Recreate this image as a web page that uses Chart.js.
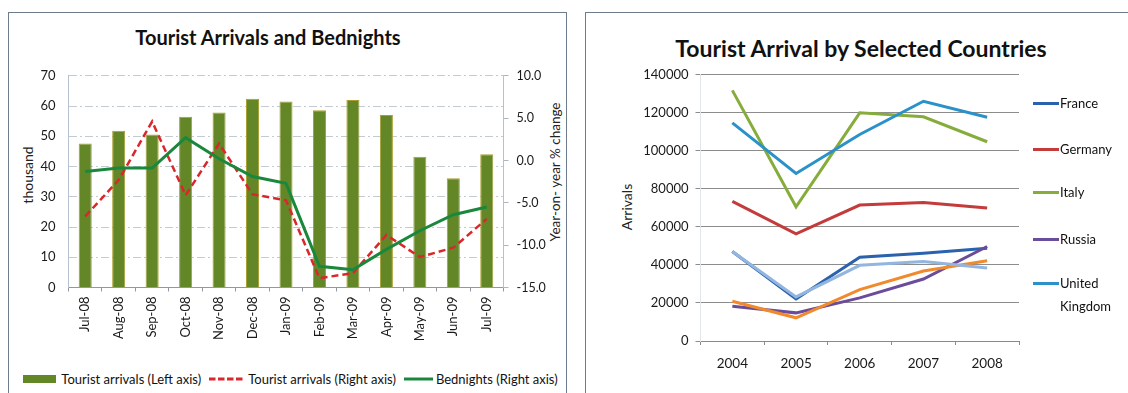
<!DOCTYPE html>
<html>
<head>
<meta charset="utf-8">
<script src="https://cdn.jsdelivr.net/npm/chart.js@4.4.1/dist/chart.umd.min.js"></script>
<style>
  html, body { margin: 0; padding: 0; background: #fff; }
  body { position: relative; width: 1128px; height: 393px; overflow: hidden; font-family: Lato, "Open Sans", sans-serif; color: #111; }
  .frame { position: absolute; border: 1px solid #6d7b8a; box-sizing: border-box; }
  .title { position: absolute; font-weight: bold; white-space: nowrap; line-height: 1; transform: translate(-50%, -50%); color: #111; }
  .vtitle { position: absolute; white-space: nowrap; line-height: 1; transform: translate(-50%, -50%) rotate(-90deg); color: #222; }
  canvas { position: absolute; }
  .legend-row { position: absolute; display: flex; align-items: center; justify-content: center; font-size: 13px; white-space: nowrap; }
  .legend-row .txt { line-height: 1; }
  .side-legend { position: absolute; font-size: 13px; }
  .side-legend .ln { position: absolute; left: 0; width: 26px; height: 3px; }
  .side-legend .lb { position: absolute; left: 27px; line-height: 23px; white-space: nowrap; }
</style>
</head>
<body>
<div class="frame" style="left:8px; top:12px; width:559px; height:400px;"></div>
<div class="frame" style="left:585px; top:12px; width:560px; height:400px;"></div>

<div class="title" style="left:268px; top:37px; font-size:20px;">Tourist Arrivals and Bednights</div>
<div class="vtitle" style="left:28px; top:175px; font-size:14px;">thousand</div>
<div class="vtitle" style="left:556px; top:172px; font-size:13.5px;">Year-on- year % change</div>
<canvas id="monthly" width="556" height="305" style="left:9px; top:55px;"></canvas>
<div class="legend-row" id="monthlyLegend" style="left:8px; top:371px; width:565px; height:16px;"></div>

<div class="title" style="left:861px; top:48px; font-size:23px;">Tourist Arrival by Selected Countries</div>
<div class="vtitle" style="left:627px; top:207px; font-size:14px;">Arrivals</div>
<canvas id="countries" width="542" height="333" style="left:586px; top:60px;"></canvas>
<div class="side-legend" id="countryLegend" style="left:1033px; top:0px;"></div>

<script>
// ---- Monthly arrivals and bednights ----
const months = ['Jul-08', 'Aug-08', 'Sep-08', 'Oct-08', 'Nov-08', 'Dec-08', 'Jan-09',
                'Feb-09', 'Mar-09', 'Apr-09', 'May-09', 'Jun-09', 'Jul-09'];
const arrivalsThousand   = [47.6, 51.8, 50.6, 56.5, 57.9, 62.4, 61.5, 58.6, 62.0, 57.0, 43.2, 36.1, 44.1];
const arrivalsChangePct  = [-6.6, -2.3, 4.6, -4.1, 2.0, -4.0, -4.7, -13.9, -13.3, -8.8, -11.4, -10.3, -6.9];
const bednightsChangePct = [-1.3, -0.9, -0.9, 2.7, 0.2, -1.9, -2.7, -12.5, -12.9, -10.5, -8.3, -6.4, -5.5];
const thousandTicks = [0, 10, 20, 30, 40, 50, 60, 70];
const percentTicks  = [-15, -10, -5, 0, 5, 10];

// ---- Arrivals by country of origin ----
const years = ['2004', '2005', '2006', '2007', '2008'];
const france        = [47100, 22100, 44100, 46200, 48800];
const germany       = [73400, 56300, 71500, 72900, 69900];
const italy         = [131800, 70600, 120000, 117900, 104800];
const russia        = [18300, 14800, 22700, 32600, 49700];
const unitedKingdom = [114700, 88100, 108600, 126100, 117700];
const series6       = [20900, 12200, 27000, 36800, 42200];
const series7       = [47100, 23200, 39800, 41800, 38400];
const arrivalTicks  = [0, 20000, 40000, 60000, 80000, 100000, 120000, 140000];

Chart.defaults.font.family = 'Lato, "Open Sans", sans-serif';
Chart.defaults.color = '#1a1a1a';

const fixedTicks = list => scale => { scale.ticks = list.map(v => ({ value: v })); };

const monthlyDatasets = [
  { type: 'line', label: 'Bednights (Right axis)', data: bednightsChangePct, yAxisID: 'y1',
    borderColor: '#1a883c', backgroundColor: '#1a883c', borderWidth: 3, pointRadius: 0, tension: 0, order: 1 },
  { type: 'line', label: 'Tourist arrivals (Right axis)', data: arrivalsChangePct, yAxisID: 'y1',
    borderColor: '#d9272b', backgroundColor: '#d9272b', borderWidth: 2.5, borderDash: [7, 4], pointRadius: 0, tension: 0, order: 2 },
  { type: 'bar', label: 'Tourist arrivals (Left axis)', data: arrivalsThousand, yAxisID: 'y',
    backgroundColor: '#638727', borderColor: '#a89f30', borderWidth: 1, borderSkipped: 'bottom',
    barPercentage: 0.39, categoryPercentage: 1, order: 3 }
];

new Chart(document.getElementById('monthly'), {
  type: 'bar',
  data: { labels: months, datasets: monthlyDatasets },
  options: {
    responsive: false, animation: false, devicePixelRatio: 1,
    layout: { padding: { top: 14.5, left: 0, right: 0, bottom: 0 } },
    plugins: { legend: { display: false }, tooltip: { enabled: false } },
    scales: {
      x: {
        offset: true,
        grid: { offset: true, drawOnChartArea: false, tickLength: 4, color: '#8e99a4' },
        border: { color: '#8e99a4' },
        ticks: { autoSkip: false, minRotation: 90, maxRotation: 90, padding: 5, font: { size: 13 }, color: '#1a1a1a' },
        afterFit: s => { s.height = 72.5; }
      },
      y: {
        position: 'left', min: 0, max: 70,
        afterBuildTicks: fixedTicks(thousandTicks),
        ticks: { padding: 13, font: { size: 13 }, color: '#1a1a1a' },
        grid: { drawTicks: false, color: '#c3cad2' },
        border: { color: '#b4c1cf', dash: [8, 3, 2, 3] },
        afterFit: s => { s.width = 59.5; }
      },
      y1: {
        position: 'right', min: -15, max: 10,
        afterBuildTicks: fixedTicks(percentTicks),
        ticks: { padding: 8, font: { size: 12.5 }, color: '#1a1a1a', callback: v => v.toFixed(1) },
        grid: { drawOnChartArea: false, tickLength: 5, color: '#a9b6c4' },
        border: { color: '#b4c1cf' },
        afterFit: s => { s.width = 61.5; }
      }
    }
  }
});

// Legend row under the monthly chart: bar swatch, dashed line, solid line
(function buildMonthlyLegend() {
  const row = document.getElementById('monthlyLegend');
  const order = [2, 1, 0];
  order.forEach((i, k) => {
    const ds = monthlyDatasets[i];
    const sample = document.createElementNS('http://www.w3.org/2000/svg', 'svg');
    let w = 33;
    if (ds.type === 'bar') {
      sample.setAttribute('width', w); sample.setAttribute('height', 8);
      sample.innerHTML = `<rect x="0" y="0" width="${w}" height="8" fill="${ds.backgroundColor}"/>`;
    } else {
      w = ds.borderDash ? 36 : 29;
      const dash = ds.borderDash ? `stroke-dasharray="6.5 2.5"` : '';
      sample.setAttribute('width', w); sample.setAttribute('height', 4);
      sample.innerHTML = `<line x1="0" y1="2" x2="${w}" y2="2" stroke="${ds.borderColor}" stroke-width="3" ${dash}/>`;
    }
    sample.style.marginLeft = k === 0 ? '0px' : '8px';
    sample.style.marginRight = ds.type === 'bar' ? '5px' : '3px';
    const txt = document.createElement('span');
    txt.className = 'txt';
    txt.textContent = ds.label;
    row.appendChild(sample);
    row.appendChild(txt);
  });
})();

const countryDatasets = [
  { label: 'France',         data: france,        color: '#2a62ad' },
  { label: 'Germany',        data: germany,       color: '#c33b3b' },
  { label: 'Italy',          data: italy,         color: '#86ad3c' },
  { label: 'Russia',         data: russia,        color: '#6b4c9a' },
  { label: 'United Kingdom', data: unitedKingdom, color: '#2b92c9' },
  { label: 'Series 6',       data: series6,       color: '#f08a2c' },
  { label: 'Series 7',       data: series7,       color: '#92b6df' }
].map((d, i, all) => ({
  label: d.label, data: d.data, borderColor: d.color, backgroundColor: d.color,
  borderWidth: 3, pointRadius: 0, tension: 0, order: all.length - i
}));

new Chart(document.getElementById('countries'), {
  type: 'line',
  data: { labels: years, datasets: countryDatasets },
  options: {
    responsive: false, animation: false, devicePixelRatio: 1,
    layout: { padding: { top: 13.3, left: 0, right: 109, bottom: 0 } },
    plugins: { legend: { display: false }, tooltip: { enabled: false } },
    scales: {
      x: {
        offset: true,
        grid: { offset: true, drawOnChartArea: false, tickLength: 4, color: '#8a8a8a' },
        border: { color: '#8a8a8a' },
        ticks: { padding: 11, font: { size: 13.5 }, color: '#1a1a1a' },
        afterFit: s => { s.height = 52; }
      },
      y: {
        min: 0, max: 140000,
        afterBuildTicks: fixedTicks(arrivalTicks),
        ticks: { padding: 7, font: { size: 13 }, color: '#1a1a1a', callback: v => String(v) },
        grid: { color: '#8c8c8c', tickLength: 5 },
        border: { color: '#e2e6ea' },
        afterFit: s => { s.width = 114.5; }
      }
    }
  }
});

// Side legend for the first five countries
(function buildCountryLegend() {
  const box = document.getElementById('countryLegend');
  const centers = [103.3, 149, 192.7, 239.3, 283.3];
  countryDatasets.slice(0, 5).forEach((ds, i) => {
    const y = centers[i];
    const ln = document.createElement('div');
    ln.className = 'ln';
    ln.style.top = (y - 1.5) + 'px';
    ln.style.background = ds.borderColor;
    const lb = document.createElement('div');
    lb.className = 'lb';
    lb.style.top = (y - 11.5) + 'px';
    lb.innerHTML = ds.label.split(' ').join('<br>');
    box.appendChild(ln);
    box.appendChild(lb);
  });
})();
</script>
</body>
</html>
